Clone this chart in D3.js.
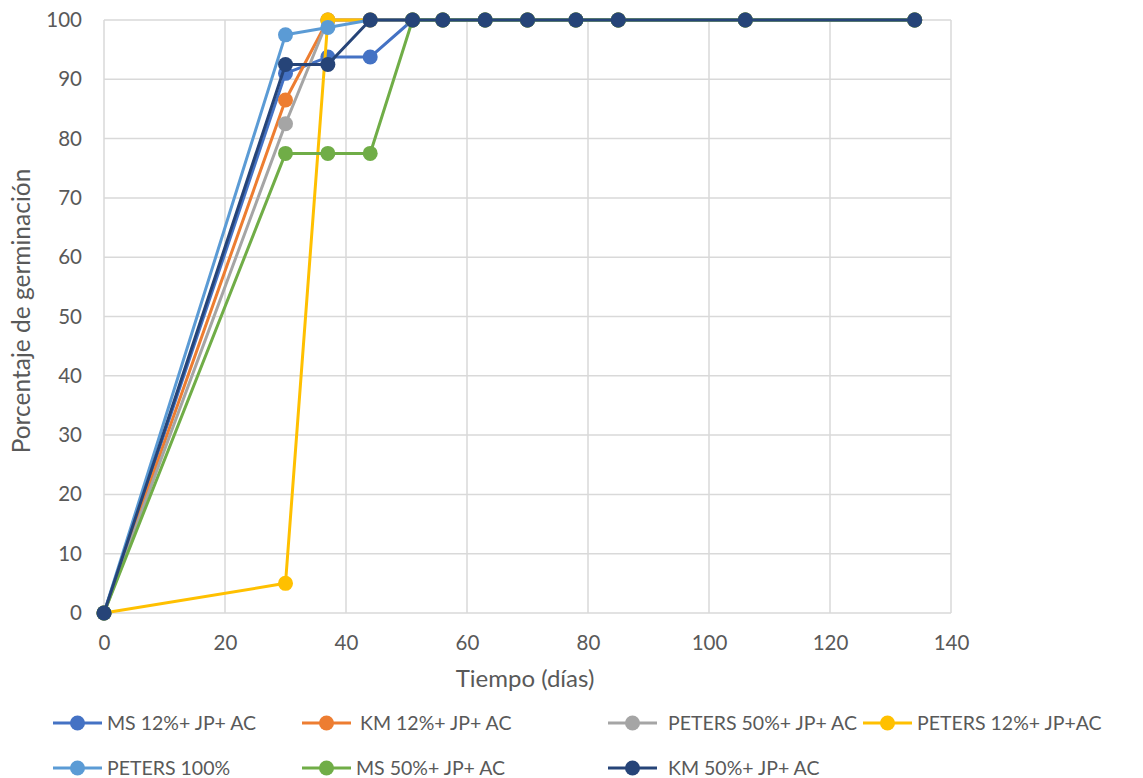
<!DOCTYPE html>
<html>
<head>
<meta charset="utf-8">
<script src="https://cdn.jsdelivr.net/npm/d3@7"></script>
<style>
  html, body { margin: 0; padding: 0; background: #fff; }
  svg { display: block; }
</style>
</head>
<body>
<svg id="chart" width="1143" height="778"></svg>
<script>
// Germination time points (days)
const days = [0, 30, 37, 44, 51, 56, 63, 70, 78, 85, 106, 134];

// Germination percentage per treatment
const msLow      = [0, 91, 93.75, 93.75, 100, 100, 100, 100, 100, 100, 100, 100];
const kmLow      = [0, 86.5, 100, 100, 100, 100, 100, 100, 100, 100, 100, 100];
const petersMid  = [0, 82.5, 100, 100, 100, 100, 100, 100, 100, 100, 100, 100];
const petersLow  = [0, 5, 100, 100, 100, 100, 100, 100, 100, 100, 100, 100];
const petersFull = [0, 97.5, 98.75, 100, 100, 100, 100, 100, 100, 100, 100, 100];
const msMid      = [0, 77.5, 77.5, 77.5, 100, 100, 100, 100, 100, 100, 100, 100];
const kmMid      = [0, 92.5, 92.5, 100, 100, 100, 100, 100, 100, 100, 100, 100];

const seriesNames = [
  "MS 12%+ JP+ AC", "KM 12%+ JP+ AC", "PETERS 50%+ JP+ AC", "PETERS 12%+ JP+AC",
  "PETERS 100%", "MS 50%+ JP+ AC", "KM 50%+ JP+ AC"
];
const seriesValues = [msLow, kmLow, petersMid, petersLow, petersFull, msMid, kmMid];
const seriesColors = ["#4472C4", "#ED7D31", "#A5A5A5", "#FFC000", "#5B9BD5", "#70AD47", "#264478"];

const xTicks = [0, 20, 40, 60, 80, 100, 120, 140];
const yTicks = [0, 10, 20, 30, 40, 50, 60, 70, 80, 90, 100];

const font = "Lato, 'Liberation Sans', sans-serif";
const textColor = "#595959";
const gridColor = "#d9d9d9";

const svg = d3.select("#chart");
const plot = { left: 104, right: 951, top: 20, bottom: 613 };

const x = d3.scaleLinear().domain([0, 140]).range([plot.left, plot.right]);
const y = d3.scaleLinear().domain([0, 100]).range([plot.bottom, plot.top]);

// Gridlines
const grid = svg.append("g");
grid.selectAll("line.h").data(yTicks).join("line")
  .attr("x1", plot.left).attr("x2", plot.right)
  .attr("y1", d => y(d)).attr("y2", d => y(d))
  .attr("stroke", gridColor).attr("stroke-width", 1.5);
grid.selectAll("line.v").data(xTicks).join("line")
  .attr("x1", d => x(d)).attr("x2", d => x(d))
  .attr("y1", plot.top).attr("y2", plot.bottom)
  .attr("stroke", gridColor).attr("stroke-width", 1.5);

// Axes (labels only, lines come from the grid)
const yAxis = svg.append("g")
  .attr("transform", `translate(${plot.left},0)`)
  .call(d3.axisLeft(y).tickValues(yTicks).tickSize(0).tickPadding(22));
const xAxis = svg.append("g")
  .attr("transform", `translate(0,${plot.bottom})`)
  .call(d3.axisBottom(x).tickValues(xTicks).tickSize(0).tickPadding(22));
[yAxis, xAxis].forEach(a => {
  a.select(".domain").remove();
  a.selectAll("text").attr("fill", textColor).style("font-family", font).style("font-size", "20.5px");
});

// Axis titles
svg.append("text")
  .attr("x", 525).attr("y", 687)
  .attr("text-anchor", "middle").attr("fill", textColor)
  .style("font-family", font).style("font-size", "24px")
  .text("Tiempo (días)");
svg.append("text")
  .attr("transform", `translate(30,311) rotate(-90)`)
  .attr("text-anchor", "middle").attr("fill", textColor)
  .style("font-family", font).style("font-size", "24.5px")
  .text("Porcentaje de germinación");

// Series lines and markers
const line = d3.line().x((d, i) => x(days[i])).y(d => y(d));
seriesValues.forEach((vals, s) => {
  const g = svg.append("g");
  g.append("path").datum(vals)
    .attr("d", line).attr("fill", "none")
    .attr("stroke", seriesColors[s]).attr("stroke-width", 3)
    .attr("stroke-linejoin", "round");
  g.selectAll("circle").data(vals).join("circle")
    .attr("cx", (d, i) => x(days[i])).attr("cy", d => y(d))
    .attr("r", 7.5).attr("fill", seriesColors[s]);
});

// Legend: [line start x, text start x, row y]
const legendPos = [
  [53, 107, 723], [302, 360, 723], [608, 668, 723], [863, 917, 723],
  [53, 107, 768], [302, 356, 768], [608, 668, 768]
];
seriesNames.forEach((name, s) => {
  const [lx, tx, ly] = legendPos[s];
  const g = svg.append("g");
  g.append("line").attr("x1", lx).attr("x2", lx + 49)
    .attr("y1", ly).attr("y2", ly)
    .attr("stroke", seriesColors[s]).attr("stroke-width", 3);
  g.append("circle").attr("cx", lx + 24.5).attr("cy", ly).attr("r", 7.5)
    .attr("fill", seriesColors[s]);
  g.append("text").attr("x", tx).attr("y", ly + 7)
    .attr("fill", textColor).style("font-family", font).style("font-size", "19.5px")
    .text(name);
});
</script>
</body>
</html>
